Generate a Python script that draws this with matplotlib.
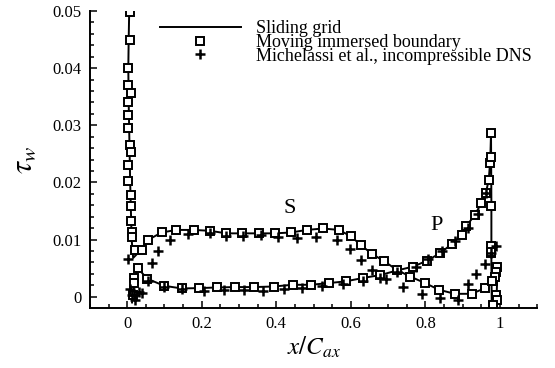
import numpy as np
import matplotlib
matplotlib.use('Agg')
import matplotlib.pyplot as plt
from matplotlib.ticker import MultipleLocator, FormatStrFormatter

plt.rcParams['font.family'] = ['Liberation Serif', 'DejaVu Serif']
plt.rcParams['mathtext.fontset'] = 'stix'

# sliding grid, suction side (spike at leading edge then plateau)
s_x = [0.006, 0.004, 0.003, 0.004, 0.006, 0.008, 0.010, 0.012, 0.016, 0.025, 0.037,
       0.057, 0.0925, 0.132, 0.179, 0.223, 0.266, 0.308, 0.353, 0.396, 0.439, 0.482,
       0.525, 0.568, 0.601, 0.627, 0.657, 0.690, 0.7235, 0.759, 0.799, 0.837, 0.879,
       0.924, 0.959, 0.975, 0.985, 0.990, 0.992, 0.990]
s_y = [0.052, 0.045, 0.040, 0.034, 0.027, 0.020, 0.015, 0.010, 0.0068, 0.0074, 0.0083,
       0.0100, 0.01125, 0.0117, 0.0117, 0.01154, 0.0111, 0.0111, 0.0111, 0.0111, 0.01125, 0.0117,
       0.01195, 0.0117, 0.01055, 0.00903, 0.0075, 0.0062, 0.0047, 0.00355, 0.0024, 0.00122, 0.00052,
       0.00052, 0.0015, 0.0025, 0.0040, 0.0050, 0.0020, -0.0015]

# sliding grid, pressure side
p_x = [0.013, 0.016, 0.020, 0.0285, 0.054, 0.0995, 0.146, 0.193, 0.241, 0.288, 0.340,
       0.393, 0.4435, 0.4925, 0.541, 0.586, 0.633, 0.679, 0.7235, 0.768, 0.8035, 0.839,
       0.870, 0.897, 0.910, 0.9325, 0.950, 0.962, 0.970, 0.974, 0.976, 0.977, 0.977, 0.978]
p_y = [-0.001, 0.0005, 0.003, 0.0050, 0.00315, 0.00192, 0.00146, 0.00152, 0.00163, 0.0017, 0.0017,
       0.0018, 0.0021, 0.0021, 0.0024, 0.0027, 0.0033, 0.0038, 0.0046, 0.0053, 0.0063, 0.0076,
       0.0092, 0.0108, 0.0124, 0.0143, 0.0164, 0.0181, 0.0205, 0.0240, 0.0286, 0.016, 0.006, -0.0018]

# moving immersed boundary
mib_x = [0.008, 0.008, 0.001, 0.001, 0.010, 0.001, 0.001, 0.003, 0.008, 0.010, 0.0035,
         0.0035, 0.010, 0.011, 0.011, 0.013, 0.013, 0.021, 0.039, 0.057, 0.0925, 0.132,
         0.179, 0.223, 0.266, 0.308, 0.353, 0.396, 0.439, 0.482, 0.525, 0.568, 0.601,
         0.627, 0.657, 0.690, 0.7235, 0.759, 0.799, 0.837, 0.879, 0.924, 0.959, 0.981,
         0.017, 0.019, 0.015, 0.0285, 0.054, 0.0995, 0.146, 0.193, 0.241, 0.288, 0.340,
         0.393, 0.4435, 0.4925, 0.541, 0.586, 0.633, 0.679, 0.768, 0.8035, 0.839, 0.870,
         0.897, 0.910, 0.9325, 0.950, 0.962, 0.970, 0.9725, 0.977, 0.976, 0.975, 0.977,
         0.977, 0.975, 0.993, 0.990, 0.987, 0.978, 0.990, 0.992, 0.980]
mib_y = [0.0499, 0.0449, 0.0400, 0.0371, 0.0356, 0.0340, 0.0318, 0.0295, 0.0266, 0.0254, 0.0231,
         0.0202, 0.0178, 0.0158, 0.0132, 0.0114, 0.0105, 0.0082, 0.0082, 0.00997, 0.01125, 0.0117,
         0.0117, 0.01154, 0.0111, 0.0111, 0.0111, 0.0111, 0.01125, 0.0117, 0.01195, 0.0117, 0.01055,
         0.00903, 0.0075, 0.0062, 0.0047, 0.00355, 0.0024, 0.00122, 0.00052, 0.00052, 0.0015, 0.0027,
         0.0033, 0.0024, 0.0003, 0.0050, 0.00315, 0.00192, 0.00146, 0.00152, 0.00163, 0.0017, 0.0017,
         0.0018, 0.0021, 0.0021, 0.0024, 0.0027, 0.0033, 0.0038, 0.0053, 0.0063, 0.0076, 0.0092,
         0.0108, 0.0124, 0.0143, 0.0164, 0.0181, 0.0205, 0.0234, 0.0244, 0.0286, 0.0158, 0.0088,
         0.0076, 0.0079, 0.0053, 0.0044, 0.0035, 0.0027, 0.0003, -0.0005, -0.0015]

# Michelassi et al. DNS
dns_x = [0.002, 0.008, 0.012, 0.017, 0.021, 0.032, 0.039, 0.055, 0.0675, 0.0835, 0.1147,
         0.163, 0.221, 0.266, 0.310, 0.359, 0.405, 0.455, 0.506, 0.5635, 0.597, 0.626,
         0.657, 0.695, 0.740, 0.790, 0.839, 0.888, 0.915, 0.937, 0.959, 0.977, 0.990,
         0.0995, 0.146, 0.206, 0.261, 0.313, 0.364, 0.4195, 0.470, 0.5235, 0.5795, 0.633,
         0.679, 0.725, 0.776, 0.808, 0.845, 0.880, 0.915, 0.941, 0.963]
dns_y = [0.0066, 0.0014, 0.0003, 0.00035, -0.0006, 0.0008, 0.0006, 0.0028, 0.0059, 0.0080, 0.00997,
         0.0109, 0.0112, 0.0107, 0.0107, 0.0108, 0.0105, 0.0103, 0.0104, 0.0100, 0.0083, 0.0065,
         0.0047, 0.0031, 0.0018, 0.0005, -0.0002, -0.0005, 0.0023, 0.0040, 0.0058, 0.0076, 0.0088,
         0.0018, 0.0013, 0.00105, 0.0012, 0.0012, 0.0011, 0.00135, 0.0015, 0.0019, 0.0023, 0.0027,
         0.0033, 0.0043, 0.0053, 0.0066, 0.0080, 0.0098, 0.0120, 0.0145, 0.0181]

fig = plt.figure(figsize=(5.55, 3.68), dpi=100)
ax = fig.add_axes([0.162, 0.164, 0.806, 0.806])

ax.plot(s_x, s_y, color='black', lw=1.4, label='Sliding grid')
ax.plot(p_x, p_y, color='black', lw=1.4)
ax.plot(mib_x, mib_y, ls='none', marker='s', ms=5.2, mfc='white', mec='black', mew=1.4,
        label='Moving immersed boundary')
ax.plot(dns_x, dns_y, ls='none', marker='+', ms=7, mec='black', mew=1.8,
        label='Michelassi et al., incompressible DNS')

ax.text(0.435, 0.0154, 'S', fontsize=16, ha='center', va='center')
ax.text(0.829, 0.0124, 'P', fontsize=16, ha='center', va='center')

ax.set_xlim(-0.1, 1.1)
ax.set_ylim(-0.0019, 0.05)
ax.spines['top'].set_visible(False)
ax.spines['right'].set_visible(False)
ax.spines['left'].set_linewidth(1.4)
ax.spines['bottom'].set_linewidth(1.4)

ax.xaxis.set_major_locator(MultipleLocator(0.2))
ax.xaxis.set_minor_locator(MultipleLocator(0.05))
ax.yaxis.set_major_locator(MultipleLocator(0.01))
ax.yaxis.set_minor_locator(MultipleLocator(0.002))
ax.xaxis.set_major_formatter(FormatStrFormatter('%g'))
ax.yaxis.set_major_formatter(FormatStrFormatter('%g'))
ax.tick_params(which='both', direction='in', top=False, right=False, labelsize=12, width=1.1)
ax.tick_params(which='major', length=5, pad=6)
ax.tick_params(which='minor', length=3)

ax.set_xlabel(r'$x/C_{ax}$', fontsize=18, labelpad=2)
ax.set_ylabel(r'$\tau_w$', fontsize=22, labelpad=10)

ax.legend(loc='upper left', bbox_to_anchor=(0.288, 0.945), bbox_transform=fig.transFigure,
          frameon=False, fontsize=13, handlelength=4.5, handletextpad=0.8,
          labelspacing=-0.18, borderpad=0, borderaxespad=0)

fig.savefig('out.png', dpi=100)
